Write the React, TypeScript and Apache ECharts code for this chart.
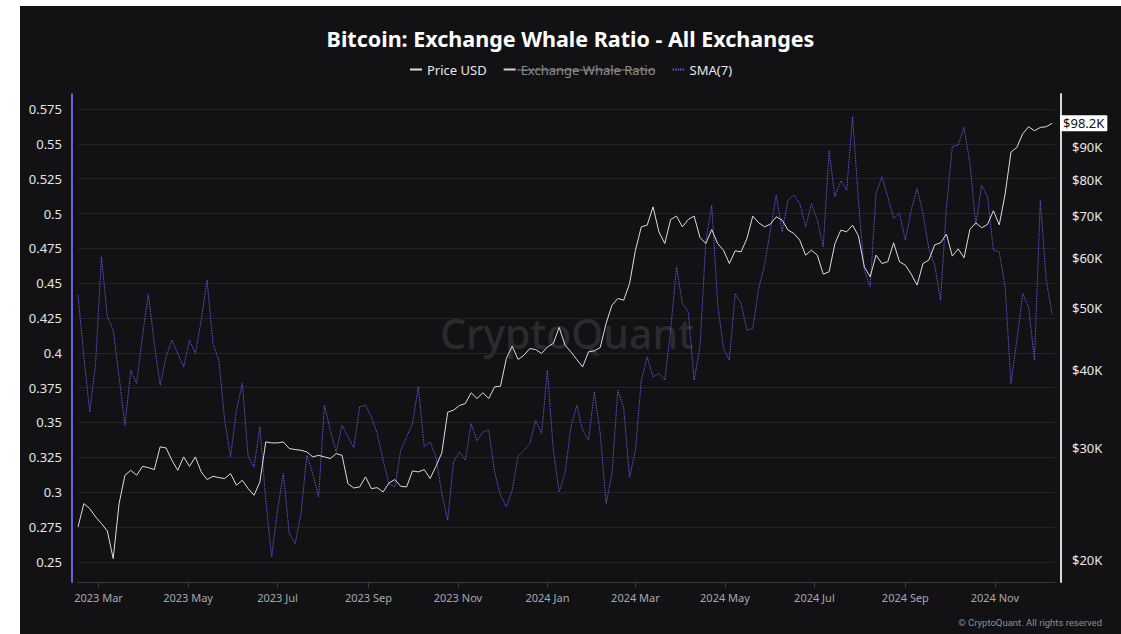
import React, { useEffect, useRef } from "react";
import * as echarts from "echarts";

// Sampling: one value every 4 days starting 2023-02-15
const startDate = [2023, 1, 15];
const stepDays = 4;
const axisEndDate = [2024, 11, 12];

// Bitcoin price, thousands of USD
const priceK = [
  22.53, 24.53, 24.09, 23.37, 22.81, 22.2, 20.07, 24.53, 27.2, 27.7, 27.2, 28.1, 27.97, 27.77, 30.17, 30.06, 28.74, 27.7, 29.09, 28.1, 29.09, 27.54, 26.78, 27.1, 26.97, 26.88, 27.37, 26.23, 26.71, 25.91, 25.29, 26.55, 30.72, 30.61, 30.61, 30.72, 29.99, 29.88, 29.8, 29.62, 29.09, 29.26,
  29.09, 28.91, 29.44, 29.26, 26.39, 25.97, 26.07, 27.04, 25.91, 26.0, 25.6, 26.45, 26.78, 26.13, 26.07, 27.64, 27.54, 27.77, 26.88, 28.1, 29.52, 34.24, 34.49, 35.08, 35.34, 36.75, 35.99, 36.75, 35.99, 37.56, 37.65, 41.65, 43.57, 41.5, 42.15, 43.19, 43.03, 42.41, 43.46, 43.99, 46.64, 43.73,
  42.67, 41.5, 40.39, 42.67, 42.83, 43.35, 47.32, 50.59, 51.84, 51.52, 54.76, 61.83, 67.33, 67.74, 72.43, 66.11, 63.36, 69.17, 70.01, 67.33, 69.17, 70.01, 64.76, 63.36, 66.68, 63.36, 61.83, 58.9, 61.68, 61.46, 64.53, 70.01, 68.33, 67.33, 68.0, 69.84, 69.0, 66.52, 65.72, 64.14, 60.72, 61.83,
  60.72, 56.66, 57.14, 63.36, 66.52, 66.11, 67.74, 65.16, 58.18, 56.1, 60.72, 58.9, 59.27, 63.52, 59.27, 58.54, 56.66, 54.43, 58.9, 59.63, 63.05, 63.52, 65.56, 60.5, 62.13, 60.14, 66.68, 68.33, 67.1, 67.91, 71.39, 67.83, 75.86, 88.43, 89.94, 94.55, 96.99, 95.6, 96.76, 96.99, 98.2,
];

// Exchange Whale Ratio, 7-day SMA
const smaValues = [
  0.4414, 0.3971, 0.3576, 0.3923, 0.4689, 0.4258, 0.4163, 0.3828, 0.348, 0.3875, 0.378, 0.4127, 0.4421, 0.4067, 0.3768, 0.3971, 0.4091, 0.3995, 0.3899, 0.4091, 0.3995, 0.4235, 0.4522, 0.4067, 0.3947, 0.3516, 0.3253, 0.3588, 0.378, 0.3253, 0.3181, 0.3468, 0.2942, 0.2535, 0.287, 0.3133, 0.2702, 0.263, 0.2846, 0.3265, 0.3133, 0.2966,
  0.3624, 0.3444, 0.3289, 0.348, 0.3397, 0.332, 0.3612, 0.3624, 0.354, 0.342, 0.3229, 0.3061, 0.3037, 0.3301, 0.3397, 0.3492, 0.3756, 0.3325, 0.3361, 0.3253, 0.299, 0.2798, 0.3217, 0.3289, 0.3229, 0.3492, 0.3368, 0.3432, 0.3444, 0.3145, 0.2978, 0.2894, 0.3014, 0.3258, 0.3301, 0.3349, 0.3516, 0.342, 0.3875, 0.3301, 0.3002, 0.3133,
  0.3468, 0.3624, 0.3444, 0.3373, 0.372, 0.342, 0.2918, 0.3133, 0.3732, 0.36, 0.3109, 0.3301, 0.3804, 0.3971, 0.3828, 0.3851, 0.3804, 0.4163, 0.4618, 0.4354, 0.4294, 0.3804, 0.4043, 0.4809, 0.506, 0.4354, 0.4031, 0.3947, 0.4426, 0.4354, 0.4163, 0.4175, 0.4462, 0.463, 0.4881, 0.5132, 0.4869, 0.5096, 0.5132, 0.5072, 0.4905, 0.5072,
  0.4953, 0.4761, 0.545, 0.512, 0.5235, 0.5168, 0.5695, 0.5096, 0.4594, 0.4474, 0.5144, 0.5264, 0.512, 0.4965, 0.5001, 0.4809, 0.5025, 0.518, 0.5001, 0.4749, 0.463, 0.4378, 0.5049, 0.5479, 0.5491, 0.5618, 0.536, 0.4917, 0.5204, 0.512, 0.4737, 0.4725, 0.4474, 0.378, 0.4091, 0.4426, 0.433, 0.3947, 0.5096, 0.4522, 0.4282,
];

const ratioTicks = [0.25, 0.275, 0.3, 0.325, 0.35, 0.375, 0.4, 0.425, 0.45, 0.475, 0.5, 0.525, 0.55, 0.575];
const priceTicks = [20000, 30000, 40000, 50000, 60000, 70000, 80000, 90000];
const monthTicks = [
  [2023, 2], [2023, 4], [2023, 6], [2023, 8], [2023, 10],
  [2024, 0], [2024, 2], [2024, 4], [2024, 6], [2024, 8], [2024, 10],
];
const monthNames = ["Jan", "Feb", "Mar", "Apr", "May", "Jun", "Jul", "Aug", "Sep", "Oct", "Nov", "Dec"];
const legendNames = ["Price USD", "Exchange Whale Ratio", "SMA(7)"];

const FONT = "'Noto Sans', 'Open Sans', sans-serif";

export default function App() {
  const ref = useRef<HTMLDivElement>(null);

  useEffect(() => {
    if (!ref.current) return;
    const chart = echarts.init(ref.current, undefined, { renderer: "svg" });

    const dates = priceK.map((_, i) =>
      new Date(startDate[0], startDate[1], startDate[2] + i * stepDays).getTime()
    );
    const priceData = dates.map((t, i) => [t, priceK[i] * 1000]);
    const smaData = dates.map((t, i) => [t, smaValues[i]]);
    const monthTickValues = monthTicks.map(([y, m]) => new Date(y, m, 1).getTime());

    chart.setOption({
      animation: false,
      backgroundColor: "#121215",
      textStyle: { fontFamily: FONT },
      title: {
        text: "Bitcoin: Exchange Whale Ratio - All Exchanges",
        left: "center",
        top: 16,
        textStyle: { color: "#ffffff", fontSize: 21.5, fontWeight: "bold", fontFamily: FONT },
      },
      legend: {
        data: legendNames,
        selected: { "Exchange Whale Ratio": false },
        top: 52,
        left: "center",
        itemWidth: 12,
        itemHeight: 10,
        itemGap: 16,
        textStyle: { color: "#e8e8e8", fontSize: 13, fontFamily: FONT },
        inactiveColor: "#8a8a8a",
        itemStyle: { opacity: 0 },
      },
      grid: { left: 58, right: 66, top: 88, bottom: 52, containLabel: false },
      xAxis: {
        type: "value",
        min: dates[0],
        max: new Date(axisEndDate[0], axisEndDate[1], axisEndDate[2]).getTime(),
        axisLine: { show: true, lineStyle: { color: "#38383d", width: 1 } },
        axisTick: { show: true, length: 6, customValues: monthTickValues, lineStyle: { color: "#38383d" } },
        axisLabel: {
          customValues: monthTickValues,
          color: "#a8a8ad",
          fontSize: 11,
          margin: 10,
          fontFamily: FONT,
          formatter: (v: number) => {
            const d = new Date(v);
            return d.getFullYear() + " " + monthNames[d.getMonth()];
          },
        },
        splitLine: { show: false },
      },
      yAxis: [
        {
          type: "value",
          position: "left",
          offset: 6,
          min: 0.2355,
          max: 0.5858,
          axisLine: { show: true, lineStyle: { color: "#6560e0", width: 2 } },
          axisTick: { show: false, customValues: ratioTicks },
          axisLabel: {
            customValues: ratioTicks,
            color: "#e4e4e4",
            fontSize: 13,
            margin: 10,
            fontFamily: FONT,
            formatter: (v: number) => String(parseFloat(Number(v).toFixed(3))),
          },
          splitLine: { show: true, lineStyle: { color: "#232327", width: 1 } },
        },
        {
          type: "log",
          logBase: 10,
          position: "right",
          offset: 6,
          min: 18430,
          max: 109300,
          axisLine: { show: true, lineStyle: { color: "#d8d8d8", width: 2 } },
          axisTick: { show: false, customValues: priceTicks },
          axisLabel: {
            customValues: priceTicks,
            color: "#e8e8e8",
            fontSize: 13,
            margin: 11,
            fontFamily: FONT,
            formatter: (v: number) => "$" + Math.round(v / 1000) + "K",
          },
          splitLine: { show: false },
        },
      ],
      series: [
        {
          name: "Price USD",
          type: "line",
          yAxisIndex: 1,
          data: priceData,
          symbol: "none",
          showSymbol: false,
          color: "#dcdcdc",
          lineStyle: { color: "#dcdcdc", width: 1 },
          z: 4,
          endLabel: {
            show: true,
            formatter: (p: any) => "$" + (p.value[1] / 1000).toFixed(1) + "K",
            backgroundColor: "#ffffff",
            color: "#111111",
            fontSize: 13,
            fontFamily: FONT,
            padding: [2, 3, 1, 3],
            borderRadius: 1,
            distance: 8,
          },
        },
        {
          name: "Exchange Whale Ratio",
          type: "line",
          yAxisIndex: 0,
          data: [],
          symbol: "none",
          color: "#9a9a9a",
          lineStyle: { color: "#9a9a9a", width: 1.2 },
        },
        {
          name: "SMA(7)",
          type: "line",
          yAxisIndex: 0,
          data: smaData,
          symbol: "none",
          showSymbol: false,
          color: "#5d56d4",
          lineStyle: { color: "#5d56d4", width: 1, type: [1.5, 1] },
          z: 3,
        },
      ],
      graphic: [
        {
          type: "text",
          left: 420,
          top: 306,
          z: 0,
          silent: true,
          style: {
            text: "CryptoQuant",
            fontSize: 41,
            fontWeight: 500,
            fontFamily: FONT,
            fill: "#2a2a2f",
          },
        },
        {
          type: "text",
          right: 19,
          top: 611,
          silent: true,
          style: {
            text: "© CryptoQuant. All rights reserved",
            fontSize: 9.5,
            fontFamily: "'Liberation Sans Narrow', Roboto, sans-serif",
            fill: "#8e8e92",
          },
        },
        {
          type: "rect",
          silent: true,
          z: 100,
          shape: { x: 497, y: 63.5, width: 138, height: 1 },
          style: { fill: "#8a8a8a" },
        },
      ],
    });

    return () => chart.dispose();
  }, []);

  return (
    <div
      ref={ref}
      style={{ position: "absolute", left: 20, top: 6, width: 1101, height: 628 }}
    />
  );
}
